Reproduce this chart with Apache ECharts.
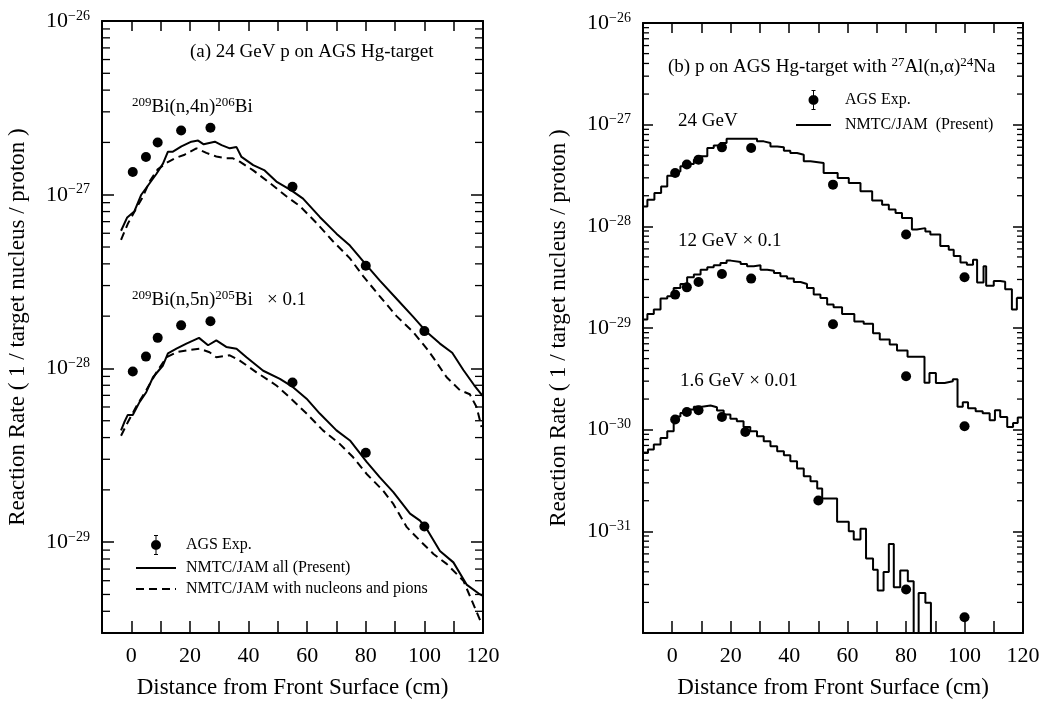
<!DOCTYPE html>
<html>
<head>
<meta charset="utf-8">
<title>Reaction rate distributions</title>
<script src="https://cdn.jsdelivr.net/npm/echarts@6.0.0/dist/echarts.min.js"></script>
<style>
  html, body { margin: 0; padding: 0; background: #fff; }
  #chart { width: 1043px; height: 701px; }
</style>
</head>
<body>
<div id="chart"></div>
<script>
const FONT = '"Liberation Serif", "DejaVu Serif", serif';

// ===== (a) 24 GeV p, Bi activation =====
const distBi = [0.5, 5, 9, 17, 27, 55, 80, 100];
const bi206Exp = [1.35e-27, 1.65e-27, 2.0e-27, 2.34e-27, 2.43e-27, 1.11e-27, 3.9e-28, 1.64e-28];
const bi205Exp = [9.6e-29, 1.17e-28, 1.5e-28, 1.77e-28, 1.87e-28, 8.3e-29, 3.27e-29, 1.23e-29];

const bi206All = [[-3.5, 6.2e-28], [-1.4, 7.4e-28], [1.0, 8.0e-28], [3.4, 1.0e-27], [5.7, 1.13e-27], [8.6, 1.32e-27],
  [10.8, 1.51e-27], [12.5, 1.77e-27], [14.2, 1.77e-27], [17.1, 1.9e-27], [20.5, 2.02e-27], [22.8, 2.05e-27],
  [24.7, 1.95e-27], [28.5, 2.02e-27], [30.8, 1.93e-27], [33.6, 1.85e-27], [35.9, 1.88e-27], [37.6, 1.65e-27],
  [41.6, 1.48e-27], [45.5, 1.38e-27], [49.5, 1.19e-27], [54.6, 1.06e-27], [58.6, 9.5e-28], [64.3, 7.45e-28],
  [70.0, 5.97e-28], [74.6, 5.1e-28], [80.3, 3.92e-28], [84.8, 3.2e-28], [90.5, 2.52e-28], [96.2, 1.98e-28],
  [100.8, 1.62e-28], [105.3, 1.39e-28], [109.5, 1.23e-28], [113.3, 9.8e-29], [117.0, 8.0e-29], [120, 6.9e-29]];
const bi206Nucl = [[-3.5, 5.5e-28], [-1.2, 6.8e-28], [1.6, 8.3e-28], [3.9, 9.7e-28], [6.2, 1.19e-27], [9.0, 1.4e-27],
  [11.9, 1.52e-27], [14.8, 1.62e-27], [18.2, 1.7e-27], [22.2, 1.85e-27], [25.6, 1.74e-27], [29.0, 1.66e-27],
  [32.4, 1.62e-27], [34.7, 1.62e-27], [37.0, 1.55e-27], [41.6, 1.38e-27], [47.2, 1.17e-27], [52.9, 9.8e-28],
  [57.5, 8.6e-28], [63.1, 6.9e-28], [68.8, 5.4e-28], [74.6, 4.3e-28], [79.1, 3.4e-28], [84.8, 2.6e-28],
  [90.5, 2.0e-28], [96.2, 1.62e-28], [100.8, 1.3e-28], [103.1, 1.15e-28], [107.6, 8.9e-29], [112.1, 7.5e-29],
  [115.5, 7.1e-29], [117.8, 6.0e-29], [119.5, 4.6e-29]];
const bi205All = [[-3.5, 4.4e-29], [-2.4, 4.9e-29], [-1.2, 5.4e-29], [0.5, 5.4e-29], [2.8, 6.4e-29], [5.1, 7.3e-29],
  [7.4, 8.9e-29], [10.8, 1.04e-28], [12.5, 1.22e-28], [15.4, 1.3e-28], [18.8, 1.39e-28], [23.1, 1.5e-28],
  [26.2, 1.36e-28], [29.0, 1.45e-28], [32.4, 1.33e-28], [35.9, 1.3e-28], [39.3, 1.16e-28], [45.0, 9.7e-29],
  [50.7, 8.7e-29], [55.2, 7.8e-29], [59.8, 6.7e-29], [64.3, 5.5e-29], [70.0, 4.4e-29], [74.6, 3.85e-29],
  [80.3, 2.9e-29], [84.8, 2.36e-29], [89.4, 1.94e-29], [95.1, 1.46e-29], [98.5, 1.33e-29], [100.8, 1.19e-29],
  [105.3, 8.9e-30], [109.9, 7.65e-30], [114.4, 5.7e-30], [119.0, 5.0e-30], [120, 4.9e-30]];
const bi205Nucl = [[-3.5, 4.1e-29], [-1.2, 4.9e-29], [1.6, 6.0e-29], [5.1, 7.5e-29], [8.6, 9.5e-29], [12.0, 1.16e-28],
  [15.4, 1.24e-28], [18.8, 1.27e-28], [23.3, 1.3e-28], [26.7, 1.24e-28], [29.0, 1.16e-28], [33.6, 1.19e-28],
  [37.0, 1.11e-28], [42.7, 9.5e-29], [49.5, 7.98e-29], [54.1, 6.8e-29], [59.8, 5.5e-29], [65.4, 4.4e-29],
  [71.1, 3.68e-29], [75.7, 3.08e-29], [80.3, 2.47e-29], [85.9, 1.98e-29], [89.4, 1.66e-29], [94.0, 1.22e-29],
  [98.5, 1.02e-29], [103.1, 8.55e-30], [107.6, 7.5e-30], [113.3, 6.0e-30], [116.7, 4.4e-30], [119.5, 3.4e-30]];

// ===== (b) 27Al(n,a)24Na =====
const distNa = [1, 5, 9, 17, 27, 55, 80, 100];
const distNa16 = [1, 5, 9, 17, 25, 50, 80, 100];
const na24Exp = [3.34e-28, 4.05e-28, 4.53e-28, 5.98e-28, 5.89e-28, 2.57e-28, 8.3e-29, 3.15e-29];
const na12Exp = [2.13e-29, 2.51e-29, 2.83e-29, 3.4e-29, 3.06e-29, 1.09e-29, 3.35e-30, 1.08e-30];
const na16Exp = [1.26e-30, 1.49e-30, 1.55e-30, 1.33e-30, 9.5e-31, 2.01e-31, 2.68e-32, 1.43e-32];

// histogram bins: [left edge, value]; last entry closes the final bin
const na24Hist = [[-10, 1.57e-28], [-8.5, 1.83e-28], [-6.1, 2.13e-28], [-3.8, 2.47e-28], [-1.7, 3.15e-28],
  [0.5, 3.47e-28], [2.8, 3.89e-28], [5.1, 4.1e-28], [7.4, 4.53e-28], [9.7, 4.88e-28], [12.0, 5.89e-28],
  [14.2, 6.25e-28], [16.5, 6.59e-28], [18.6, 7.28e-28], [29.0, 6.85e-28], [31.3, 6.6e-28], [33.6, 6.1e-28],
  [35.9, 6.0e-28], [38.2, 5.55e-28], [40.4, 5.26e-28], [42.7, 5.07e-28], [45.0, 4.36e-28], [47.3, 4.2e-28],
  [51.8, 3.34e-28], [56.6, 2.99e-28], [60.4, 2.67e-28], [64.4, 2.21e-28], [68.4, 1.8e-28], [71.8, 1.63e-28],
  [74.1, 1.46e-28], [76.4, 1.35e-28], [78.6, 1.21e-28], [82.0, 9.3e-29], [83.7, 9.6e-29], [86.6, 8.9e-29],
  [88.3, 8.3e-29], [91.7, 6.4e-29], [94.6, 5.9e-29], [96.3, 5.1e-29], [98.6, 4.4e-29], [100.8, 4.2e-29],
  [102.9, 4.7e-29], [104.3, 2.8e-29], [106.5, 4.05e-29], [107.4, 2.6e-29], [110.0, 2.9e-29], [112.2, 2.85e-29],
  [113.9, 2.4e-29], [116.2, 1.52e-29], [117.9, 1.97e-29], [120, 1.97e-29]];
const na12Hist = [[-10, 1.21e-29], [-8.5, 1.37e-29], [-6.3, 1.52e-29], [-4.0, 1.95e-29], [-1.7, 2.05e-29],
  [0.5, 2.47e-29], [2.8, 2.71e-29], [5.1, 3.15e-29], [7.4, 3.35e-29], [9.7, 3.75e-29], [12.0, 3.95e-29],
  [14.2, 4.14e-29], [16.5, 4.36e-29], [18.6, 4.6e-29], [20.0, 4.46e-29], [23.4, 4.26e-29], [25.6, 4.05e-29],
  [27.9, 4.14e-29], [30.2, 3.75e-29], [32.5, 3.66e-29], [34.8, 3.47e-29], [37.0, 3.22e-29], [39.3, 3.06e-29],
  [41.6, 2.83e-29], [43.9, 2.71e-29], [46.1, 2.47e-29], [48.4, 2.13e-29], [50.7, 1.97e-29], [53.0, 1.7e-29],
  [55.2, 1.6e-29], [58.1, 1.37e-29], [62.3, 1.16e-29], [65.5, 1.1e-29], [68.7, 8.9e-30], [71.0, 7.7e-30],
  [74.4, 6.9e-30], [76.9, 6.0e-30], [80.5, 5.2e-30], [86.3, 2.9e-30], [88.0, 3.6e-30], [90.2, 2.88e-30],
  [93.2, 2.99e-30], [96.0, 3.13e-30], [97.6, 1.68e-30], [99.4, 1.86e-30], [101.2, 1.62e-30], [103.8, 1.52e-30],
  [106.2, 1.45e-30], [108.6, 1.24e-30], [110.4, 1.55e-30], [112.2, 1.33e-30], [114.6, 1.06e-30],
  [116.6, 1.16e-30], [118.2, 1.32e-30], [120, 1.32e-30]];
// 1e-34 marks empty bins (below the axis floor)
const na16Hist = [[-10, 5.9e-31], [-8.3, 6.37e-31], [-6.3, 7.13e-31], [-4.0, 8.28e-31], [-1.7, 9.64e-31],
  [0.5, 1.35e-30], [2.8, 1.46e-30], [5.1, 1.58e-30], [7.4, 1.68e-30], [10.2, 1.73e-30], [13.1, 1.66e-30],
  [15.3, 1.54e-30], [17.6, 1.41e-30], [19.9, 1.28e-30], [22.1, 1.21e-30], [24.4, 1.06e-30], [26.7, 9.64e-31],
  [29.0, 8.61e-31], [31.3, 7.69e-31], [33.6, 6.87e-31], [35.9, 6.14e-31], [38.2, 5.6e-31], [40.4, 4.89e-31],
  [42.7, 4.14e-31], [45.0, 3.48e-31], [47.3, 3.11e-31], [49.6, 2.64e-31], [51.3, 2.1e-31], [56.4, 1.24e-31],
  [60.4, 1.0e-31], [62.1, 8.3e-32], [64.4, 1.06e-31], [66.3, 5.4e-32], [68.7, 4.2e-32], [70.3, 2.62e-32],
  [72.3, 3.99e-32], [74.1, 7.5e-32], [75.8, 2.82e-32], [78.0, 4.12e-32], [80.6, 3.23e-32], [82.6, 1e-34],
  [84.3, 2.48e-32], [86.6, 1.98e-32], [88.5, 1e-34], [120, 1e-34]];

// axis ranges
const X_MIN = -10, X_MAX = 120;
const A_MIN = 3e-30, A_MAX = 1e-26;
const B_MIN = 1e-32, B_MAX = 1e-26;

const Y_TITLE = 'Reaction Rate ( 1 / target nucleus / proton )';
const ERR_ICON = 'path://M3,0H7V1H5.5V19H7V20H3V19H4.5V1H3Z M5,5A5,5 0 1 1 5,15A5,5 0 1 1 5,5Z';
const BLACK = '#000';

function pairs(xs, ys) { return xs.map((x, i) => [x, ys[i]]); }

function minorTicks(lo, hi) {
  const out = [];
  for (let e = Math.floor(Math.log10(lo)); e < Math.ceil(Math.log10(hi)); e++) {
    for (let m = 2; m <= 9; m++) {
      const v = m * Math.pow(10, e);
      if (v > lo * 1.0001 && v < hi) out.push(v);
    }
  }
  return out;
}

function xAxisDef(grid, pos) {
  const bottom = pos === 'bottom';
  return {
    type: 'value', gridIndex: grid, position: pos, min: X_MIN, max: X_MAX, interval: 10,
    axisLine: { show: true, onZero: false, lineStyle: { color: BLACK, width: 2 } },
    axisTick: { show: true, inside: true, length: bottom ? 12 : 10, lineStyle: { color: BLACK, width: 1.5 } },
    splitLine: { show: false },
    axisLabel: bottom ? {
      show: true, margin: 12, color: BLACK, fontFamily: FONT, fontSize: 22,
      showMinLabel: true, showMaxLabel: true,
      formatter: v => (v >= 0 && v % 20 === 0) ? String(v) : ''
    } : { show: false },
    name: bottom ? 'Distance from Front Surface (cm)' : '',
    nameLocation: 'middle', nameGap: 43,
    nameTextStyle: { color: BLACK, fontFamily: FONT, fontSize: 23 }
  };
}

function yAxisDef(grid, pos, min, max, tickLen, minExp) {
  const left = pos === 'left';
  return {
    type: 'log', logBase: 10, gridIndex: grid, position: pos, min: min, max: max,
    axisLine: { show: true, onZero: false, lineStyle: { color: BLACK, width: 2 } },
    axisTick: { show: true, inside: true, length: tickLen, lineStyle: { color: BLACK, width: 1.5 } },
    splitLine: { show: false },
    axisLabel: left ? {
      show: true, margin: 12, showMinLabel: true, showMaxLabel: true,
      formatter: v => {
        const lg = Math.log10(v);
        const e = Math.round(lg);
        if (Math.abs(lg - e) > 1e-6 || e < minExp) return '';
        return '{b|10}{e|\u2212' + (-e) + '}';
      },
      rich: {
        b: { fontFamily: FONT, fontSize: 22, color: BLACK, lineHeight: 24 },
        e: { fontFamily: FONT, fontSize: 14, color: BLACK, lineHeight: 14, verticalAlign: 'top' }
      }
    } : { show: false }
  };
}

function minorTickSeries(xi, yi, values, len) {
  return {
    type: 'custom', xAxisIndex: xi, yAxisIndex: yi, silent: true, z: 5, clip: false,
    data: values.map(v => [0, v]),
    renderItem: (params, api) => {
      const y = api.coord([0, api.value(1)])[1];
      const cs = params.coordSys;
      const st = { stroke: BLACK, lineWidth: 1.3 };
      return {
        type: 'group',
        children: [
          { type: 'line', shape: { x1: cs.x, y1: y, x2: cs.x + len, y2: y }, style: st },
          { type: 'line', shape: { x1: cs.x + cs.width - len, y1: y, x2: cs.x + cs.width, y2: y }, style: st }
        ]
      };
    }
  };
}

function lineSeries(name, data, xi, yi, dashed) {
  return {
    name: name, type: 'line', xAxisIndex: xi, yAxisIndex: yi, data: data,
    symbol: 'none', showSymbol: false, smooth: false, clip: true,
    lineStyle: { color: BLACK, width: 2, type: dashed ? [8, 5] : 'solid' },
    itemStyle: { color: BLACK }
  };
}

function histSeries(name, data) {
  return {
    name: name, type: 'line', xAxisIndex: 2, yAxisIndex: 2, data: data, step: 'end',
    symbol: 'none', showSymbol: false, clip: true,
    lineStyle: { color: BLACK, width: 2 }, itemStyle: { color: BLACK }
  };
}

function expSeries(data, xi, yi) {
  return {
    name: 'AGS Exp.', type: 'scatter', xAxisIndex: xi, yAxisIndex: yi, data: data,
    symbol: 'circle', symbolSize: 10, itemStyle: { color: BLACK, opacity: 1 }, z: 4
  };
}

const supRich = {
  b: { fontFamily: FONT, fontSize: 19, fill: BLACK, lineHeight: 22 },
  s: { fontFamily: FONT, fontSize: 13, fill: BLACK, lineHeight: 13, verticalAlign: 'top' }
};
function label(x, y, text, size) {
  return { type: 'text', left: x, top: y, silent: true,
    style: { text: text, fontFamily: FONT, fontSize: size || 19, fill: BLACK } };
}
function richLabel(x, y, text) {
  return { type: 'text', left: x, top: y, silent: true, style: { text: text, rich: supRich } };
}
function yTitle(cx, cy) {
  return { type: 'text', x: cx, y: cy, rotation: Math.PI / 2, silent: true,
    style: { text: Y_TITLE, fontFamily: FONT, fontSize: 23, fill: BLACK, align: 'center', verticalAlign: 'middle' } };
}
function lineLegendItem(name) {
  return { name: name, itemStyle: { opacity: 0 } };
}

const chart = echarts.init(document.getElementById('chart'), null, { renderer: 'canvas' });

chart.setOption({
  animation: false,
  backgroundColor: '#fff',
  grid: [
    { left: 102, top: 21, width: 381, height: 612, containLabel: false, outerBoundsMode: 'none' },
    { left: 643, top: 23, width: 380, height: 610, containLabel: false, outerBoundsMode: 'none' }
  ],
  xAxis: [xAxisDef(0, 'bottom'), xAxisDef(0, 'top'), xAxisDef(1, 'bottom'), xAxisDef(1, 'top')],
  yAxis: [
    yAxisDef(0, 'left', A_MIN, A_MAX, 12, -29),
    yAxisDef(0, 'right', A_MIN, A_MAX, 12, -29),
    yAxisDef(1, 'left', B_MIN, B_MAX, 10, -31),
    yAxisDef(1, 'right', B_MIN, B_MAX, 10, -31)
  ],
  legend: [
    {
      left: 130, top: 530, orient: 'vertical', itemWidth: 40, itemHeight: 20, itemGap: 5,
      selectedMode: false,
      textStyle: { color: BLACK, fontFamily: FONT, fontSize: 16, padding: [0, 0, 0, 5] },
      data: [{ name: 'AGS Exp.', icon: ERR_ICON }, lineLegendItem('NMTC/JAM all (Present)'),
        lineLegendItem('NMTC/JAM with nucleons and pions')]
    },
    {
      left: 790, top: 85, orient: 'vertical', itemWidth: 35, itemHeight: 20, itemGap: 7,
      selectedMode: false,
      textStyle: { color: BLACK, fontFamily: FONT, fontSize: 16, padding: [0, 0, 0, 9] },
      data: [{ name: 'AGS Exp.', icon: ERR_ICON }, lineLegendItem('NMTC/JAM  (Present)')]
    }
  ],
  graphic: [
    yTitle(18, 327),
    yTitle(559, 328),
    label(190, 43, '(a) 24 GeV p on AGS Hg-target'),
    richLabel(132, 96, '{s|209}{b|Bi(n,4n)}{s|206}{b|Bi}'),
    richLabel(132, 289, '{s|209}{b|Bi(n,5n)}{s|205}{b|Bi   \u00d7 0.1}'),
    richLabel(668, 56, '{b|(b) p on AGS Hg-target with }{s|27}{b|Al(n,\u03b1)}{s|24}{b|Na}'),
    label(678, 112, '24 GeV'),
    label(678, 232, '12 GeV \u00d7 0.1'),
    label(680, 372, '1.6 GeV \u00d7 0.01')
  ],
  series: [
    minorTickSeries(0, 0, minorTicks(A_MIN, A_MAX), 8),
    minorTickSeries(2, 2, minorTicks(B_MIN, B_MAX), 6),
    lineSeries('NMTC/JAM all (Present)', bi206All, 0, 0, false),
    lineSeries('NMTC/JAM with nucleons and pions', bi206Nucl, 0, 0, true),
    lineSeries('NMTC/JAM all (Present)', bi205All, 0, 0, false),
    lineSeries('NMTC/JAM with nucleons and pions', bi205Nucl, 0, 0, true),
    expSeries(pairs(distBi, bi206Exp), 0, 0),
    expSeries(pairs(distBi, bi205Exp), 0, 0),
    histSeries('NMTC/JAM  (Present)', na24Hist),
    histSeries('NMTC/JAM  (Present)', na12Hist),
    histSeries('NMTC/JAM  (Present)', na16Hist),
    expSeries(pairs(distNa, na24Exp), 2, 2),
    expSeries(pairs(distNa, na12Exp), 2, 2),
    expSeries(pairs(distNa16, na16Exp), 2, 2)
  ]
});
</script>
</body>
</html>
